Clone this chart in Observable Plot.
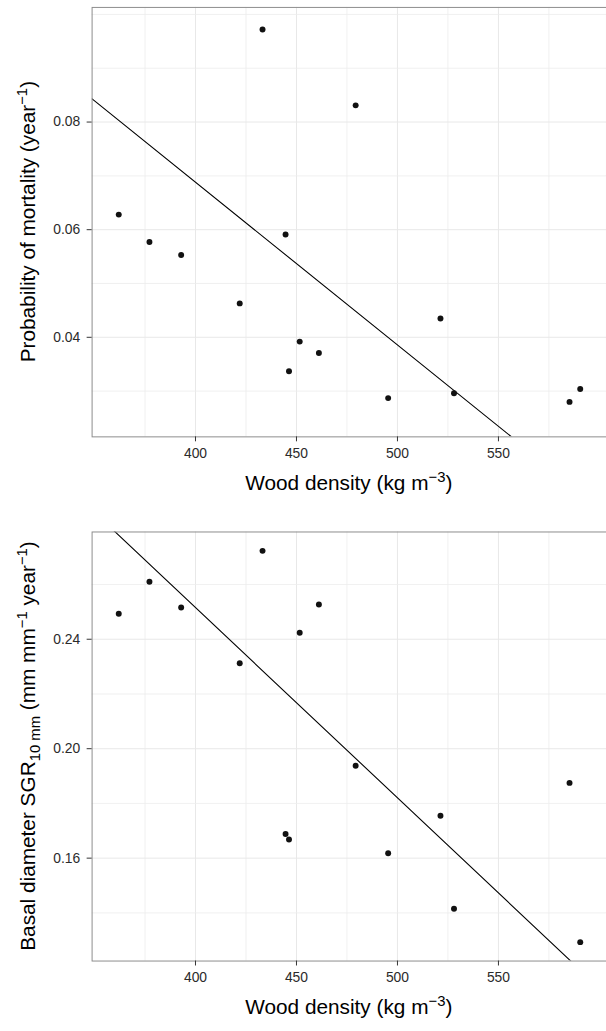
<!DOCTYPE html>
<html><head><meta charset="utf-8">
<script src="https://cdn.jsdelivr.net/npm/d3@7"></script>
<script src="https://cdn.jsdelivr.net/npm/@observablehq/plot@0.6"></script>
<style>
html,body{margin:0;padding:0;background:#fff;overflow:hidden;}
#chart{width:606px;height:1031px;overflow:hidden;}
#chart svg{display:block;}
</style></head><body><div id="chart"></div>
<script>
// ---- data ----
const density   = [362.0, 377.2, 392.9, 421.9, 433.2, 444.6, 446.3, 451.6, 461.1, 479.3, 495.4, 521.3, 528.0, 585.2, 590.5];
const mortality = [0.0628, 0.0577, 0.0553, 0.0463, 0.0972, 0.0591, 0.0337, 0.0392, 0.0371, 0.0831, 0.0287, 0.0435, 0.0296, 0.0280, 0.0304];
const sgr       = [0.2493, 0.2610, 0.2516, 0.2312, 0.2723, 0.1688, 0.1668, 0.2424, 0.2527, 0.1938, 0.1618, 0.1755, 0.1415, 0.1875, 0.1293];

const xTicks = [400, 450, 500, 550];
const xMinor = [375, 425, 475, 525, 575];
const mortTicks = [0.04, 0.06, 0.08];
const mortMinor = [0.03, 0.05, 0.07, 0.09, 0.10];
const sgrTicks = [0.16, 0.20, 0.24];
const sgrMinor = [0.14, 0.18, 0.22, 0.26];

const mortFit = {intercept: 0.18978, slope: -0.0003024};
const sgrFit  = {intercept: 0.5297,  slope: -0.0006953};

const xDomain = [348.8, 603.5];
const mortDomain = [0.0215, 0.1013];
const sgrDomain = [0.1224, 0.2792];

const FONT = "'Liberation Sans', Arial, Helvetica, sans-serif";

function panel({values, ticks, minor, domain, fit, height, marginTop, marginBottom, yTitle}) {
  const data = density.map((d, i) => ({density: d, v: values[i]}));
  const fitData = xDomain.map(x => ({x, y: fit.intercept + fit.slope * x}));
  const svg = Plot.plot({
    width: 612, height, marginLeft: 92.5, marginRight: 0, marginTop, marginBottom,
    x: {domain: xDomain},
    y: {domain},
    style: {fontFamily: FONT, fontSize: "14px", color: "#2b2b2b", background: "#fff", overflow: "visible"},
    marks: [
      Plot.gridX(xMinor, {stroke: "#ececec", strokeOpacity: 1, strokeWidth: 0.8}),
      Plot.gridX(xTicks, {stroke: "#e8e8e8", strokeOpacity: 1, strokeWidth: 1}),
      Plot.gridY(minor, {stroke: "#ececec", strokeOpacity: 1, strokeWidth: 0.8}),
      Plot.gridY(ticks, {stroke: "#e8e8e8", strokeOpacity: 1, strokeWidth: 1}),
      Plot.line(fitData, {x: "x", y: "y", stroke: "#000", strokeWidth: 1.1, clip: true}),
      Plot.dot(data, {x: "density", y: "v", r: 3, fill: "#111", stroke: "none"}),
      Plot.frame({stroke: "#8c8c8c", strokeWidth: 1}),
      Plot.axisX(xTicks, {tickSize: 5, tickPadding: 6, label: null, stroke: "#333"}),
      Plot.axisY(ticks, {tickSize: 5, tickPadding: 7, label: null, stroke: "#333", tickFormat: d3.format(".2f")})
    ]
  });
  const s = d3.select(svg);
  const bottom = height - marginBottom;
  // x title
  const xt = s.append("text")
    .attr("x", (92.5 + 612) / 2).attr("y", bottom + 54)
    .attr("text-anchor", "middle").attr("font-family", FONT).attr("font-size", 21).attr("fill", "#000");
  xt.append("tspan").text("Wood density (kg m");
  xt.append("tspan").attr("dy", -8).attr("font-size", 15).text("\u22123");
  xt.append("tspan").attr("dy", 8).text(")");
  // y title
  const yt = s.append("text")
    .attr("transform", `translate(35,${(marginTop + bottom) / 2}) rotate(-90)`)
    .attr("text-anchor", "middle").attr("font-family", FONT).attr("font-size", 21).attr("fill", "#000");
  for (const part of yTitle) {
    const t = yt.append("tspan").text(part.t);
    if (part.dy) t.attr("dy", part.dy);
    if (part.fs) t.attr("font-size", part.fs);
  }
  return svg;
}

const chart = document.getElementById("chart");
chart.append(panel({
  values: mortality, ticks: mortTicks, minor: mortMinor, domain: mortDomain, fit: mortFit,
  height: 515, marginTop: 7, marginBottom: 74.3,
  yTitle: [{t: "Probability of mortality (year"}, {t: "\u22121", dy: -8, fs: 15}, {t: ")", dy: 8}]
}));
chart.append(panel({
  values: sgr, ticks: sgrTicks, minor: sgrMinor, domain: sgrDomain, fit: sgrFit,
  height: 516, marginTop: 21.7, marginBottom: 61,
  yTitle: [
    {t: "Basal diameter SGR"}, {t: "10 mm", dy: 5, fs: 15}, {t: " (mm mm", dy: -5},
    {t: "\u22121", dy: -8, fs: 15}, {t: " year", dy: 8}, {t: "\u22121", dy: -8, fs: 15}, {t: ")", dy: 8}
  ]
}));
</script></body></html>
